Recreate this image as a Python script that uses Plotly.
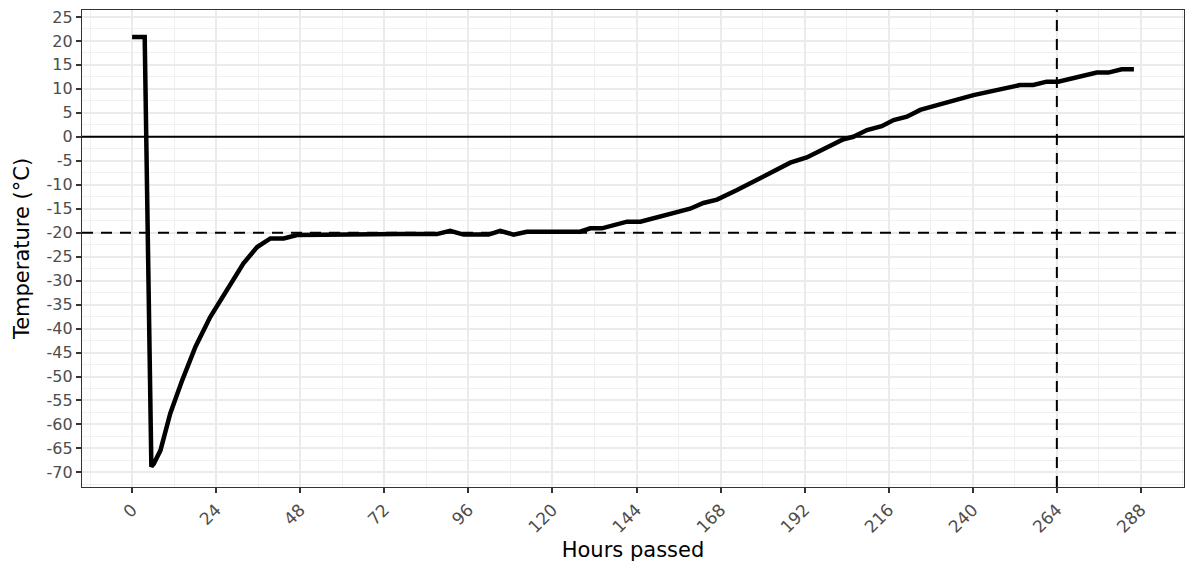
import plotly.graph_objects as go

# Data
hours = [0, 3.6, 5.5, 6.2, 8.1, 10.9, 14.3, 18.1, 22.3, 27.1, 31.8, 35.7, 39.5, 43.3,
         47.1, 76.6, 87.0, 90.8, 94.6, 101.8, 105.1, 108.9, 112.7, 127.9, 130.8, 134.1,
         141.3, 145.1, 152.7, 159.3, 163.1, 167.0, 172.7, 187.9, 192.6, 203.1, 205.9,
         209.8, 214.0, 217.4, 221.2, 225.0, 228.8, 240.2, 253.5, 257.3, 261.1, 264.4,
         275.4, 278.7, 282.5, 286.0]
temps = [20.8, 20.8, -68.8, -68.2, -65.4, -57.7, -50.8, -43.8, -37.6, -32.0, -26.4, -23.0,
         -21.2, -21.2, -20.5, -20.3, -20.3, -19.6, -20.4, -20.4, -19.6, -20.4, -19.8,
         -19.8, -19.1, -19.1, -17.7, -17.7, -16.3, -15.0, -13.8, -13.1, -11.1, -5.4,
         -4.3, -0.5, 0.0, 1.4, 2.2, 3.5, 4.2, 5.6, 6.4, 8.7, 10.8, 10.8, 11.5, 11.5,
         13.4, 13.4, 14.1, 14.1]

x_ticks = list(range(0, 289, 24))
y_ticks = list(range(-70, 26, 5))
ref_temp_zero = 0
ref_temp_target = -20
ref_hour = 264

fig = go.Figure()
fig.add_trace(go.Scatter(x=hours, y=temps, mode="lines",
                         line=dict(color="black", width=4.5),
                         showlegend=False, hoverinfo="skip"))

fig.add_hline(y=ref_temp_zero, line=dict(color="black", width=2), layer="above", opacity=1)
fig.add_hline(y=ref_temp_target, line=dict(color="black", width=2, dash="11px,8px"),
              layer="above", opacity=1)
fig.add_vline(x=ref_hour, line=dict(color="black", width=2, dash="11px,8px"),
              layer="above", opacity=1)

ytickfont = dict(family="DejaVu Sans", size=16, color="#4D4D4D")
xtickfont = dict(family="DejaVu Sans", size=17, color="#4D4D4D")
titlefont = dict(family="DejaVu Sans", size=21, color="black")

fig.update_xaxes(
    range=[-14.3, 300.3], tickvals=x_ticks, ticktext=[str(v) for v in x_ticks],
    tickangle=-45, tickfont=xtickfont,
    title=dict(text="Hours passed", font=titlefont, standoff=8),
    ticks="outside", ticklen=5, tickwidth=1.5, tickcolor="#333333",
    showgrid=True, gridcolor="#EBEBEB", gridwidth=1.6,
    minor=dict(dtick=12, tick0=0, showgrid=True, gridcolor="#F0F0F0", gridwidth=0.9, ticks=""),
    showline=True, linecolor="#333333", linewidth=1.2, mirror=True,
    zeroline=False, automargin=False,
)
fig.update_yaxes(
    range=[-73.05, 26.45], tickvals=y_ticks, ticktext=[str(v) for v in y_ticks],
    tickfont=ytickfont,
    title=dict(text="Temperature (°C)", font=titlefont, standoff=11),
    ticks="outside", ticklen=5, tickwidth=1.5, tickcolor="#333333",
    showgrid=True, gridcolor="#EBEBEB", gridwidth=1.6,
    minor=dict(dtick=2.5, tick0=0, showgrid=True, gridcolor="#F0F0F0", gridwidth=0.9, ticks=""),
    showline=True, linecolor="#333333", linewidth=1.2, mirror=True,
    zeroline=False, automargin=False,
)

fig.update_layout(
    width=1187, height=562,
    margin=dict(l=82, r=3, t=10, b=75),
    plot_bgcolor="white", paper_bgcolor="white",
    font=dict(family="DejaVu Sans"),
)

fig.write_html("out.html", config={"displayModeBar": False},
               post_script="document.body.style.margin='0';")
